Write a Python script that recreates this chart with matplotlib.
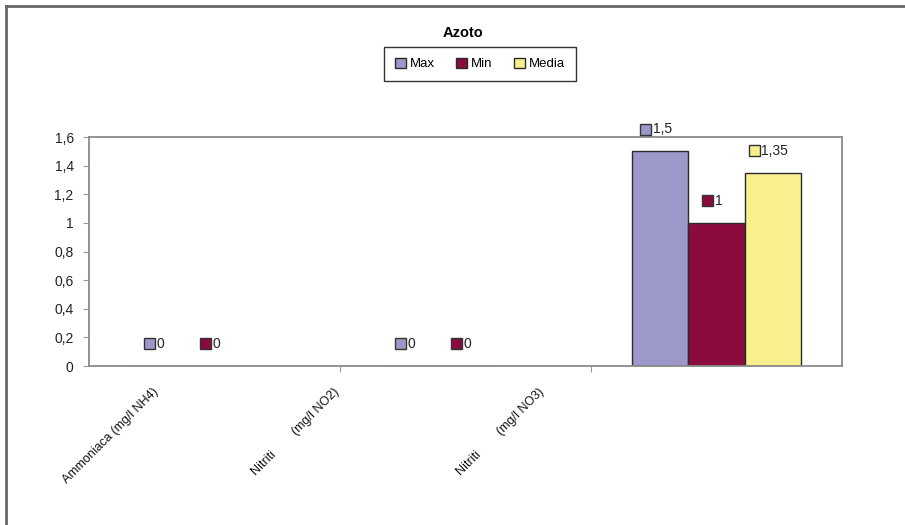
import numpy as np
import matplotlib
matplotlib.use("Agg")
import matplotlib.pyplot as plt
from matplotlib.lines import Line2D
from matplotlib.patches import Rectangle
from matplotlib.offsetbox import AnnotationBbox, HPacker, DrawingArea, TextArea
import matplotlib.transforms as mtransforms

plt.rcParams['font.family'] = ['Liberation Sans', 'DejaVu Sans']

# ---- data ----
title = "Azoto"
categories = ["Ammoniaca (mg/l NH4)", "Nitriti        (mg/l NO2)", "Nitriti        (mg/l NO3)"]
series_names = ["Max", "Min", "Media"]
max_vals = [0, 0, 1.5]
min_vals = [0, 0, 1]
media_vals = [np.nan, np.nan, 1.35]
y_ticks = [0, 0.2, 0.4, 0.6, 0.8, 1, 1.2, 1.4, 1.6]
y_tick_labels = ["0", "0,2", "0,4", "0,6", "0,8", "1", "1,2", "1,4", "1,6"]

colors = ["#9C98C9", "#8C0B3E", "#F8EF8F"]
edge = "#2a2a2a"

fig = plt.figure(figsize=(9.05, 5.25), dpi=100)
ax = fig.add_axes([89/905, 1-366/525, (842-89)/905, (366-137)/525])

x = np.arange(len(categories))
w = 0.224
series = [max_vals, min_vals, media_vals]
containers = []
for i, (vals, c) in enumerate(zip(series, colors)):
    bc = ax.bar(x + (i-1)*w, vals, w, color=c, edgecolor=edge, linewidth=1.0, label=series_names[i], zorder=2)
    containers.append(bc)

ax.set_xlim(-0.5, len(categories)-0.5)
ax.set_ylim(0, 1.6)
ax.set_yticks(y_ticks)
ax.set_yticklabels(y_tick_labels, fontsize=10, color="#222222")

# category boundary ticks
ax.set_xticks([0.5, 1.5])
ax.set_xticklabels([])
ax.tick_params(axis='x', which='major', length=4, color="#999999", direction='out')
ax.tick_params(axis='y', length=4, color="#999999", direction='out', pad=7)
ax.set_xticks(x, minor=True)
ax.set_xticklabels(categories, minor=True, rotation=45, ha='right', va='top',
                   rotation_mode='anchor', fontsize=9, color="#111111")
ax.tick_params(axis='x', which='minor', length=0, pad=0)
shifts_px = [(-62, -20), (-132, -20), (-178, -20)]
for lab, (dx, dy) in zip(ax.get_xticklabels(minor=True), shifts_px):
    lab.set_transform(lab.get_transform() + mtransforms.ScaledTranslation(dx/100, dy/100, fig.dpi_scale_trans))

for s in ax.spines.values():
    s.set_color("#8a8a8a")
    s.set_linewidth(1.3)

# data labels: colored square + value
def fmt(v):
    return f"{v:g}".replace('.', ',')

for bc, c in zip(containers, colors):
    for rect, v in zip(bc.patches, bc.datavalues):
        if np.isnan(v):
            continue
        da = DrawingArea(8, 8, 0, 0)
        da.add_artist(Rectangle((0, 0), 8, 8, facecolor=c, edgecolor="#333333", linewidth=1.0))
        ta = TextArea(fmt(v), textprops=dict(fontsize=10, color="#222222"))
        pack = HPacker(children=[da, ta], align="center", pad=0, sep=1)
        cx = rect.get_x() + rect.get_width()/2
        ab = AnnotationBbox(pack, (cx, v), xybox=(-3, 16), xycoords='data',
                            boxcoords='offset points', frameon=False, box_alignment=(0.5, 0.5))
        ax.add_artist(ab)

fig.text(463/905, 1-33/525, title, ha='center', va='center', fontsize=10.5, fontweight='bold')
leg = fig.legend(handles=containers, labels=series_names, loc='center', bbox_to_anchor=(480/905, 1-64/525),
                 ncol=3, fontsize=9.5, frameon=True, fancybox=False, edgecolor='black',
                 handlelength=0.85, handleheight=0.85, handletextpad=0.3, columnspacing=1.6,
                 borderpad=0.8, borderaxespad=0)
leg.get_frame().set_linewidth(1.0)

# outer frame (top and left)
fig.add_artist(Line2D([6/905, 1], [1-6/525, 1-6/525], transform=fig.transFigure, color="#666666", linewidth=2))
fig.add_artist(Line2D([6/905, 6/905], [0, 1-6/525], transform=fig.transFigure, color="#666666", linewidth=2))

fig.savefig("out.png", dpi=100)
